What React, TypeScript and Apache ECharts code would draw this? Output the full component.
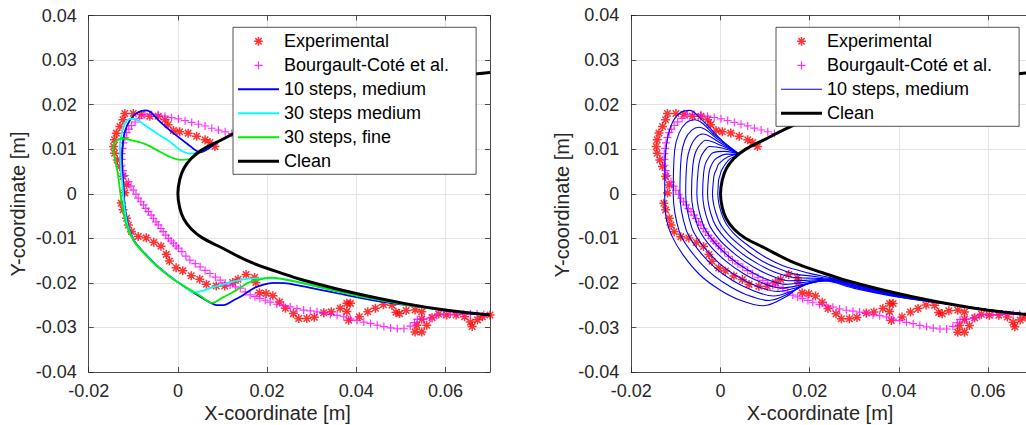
import React, { useEffect, useRef } from "react";
import * as echarts from "echarts";

// ---------- axis ranges ----------
const X_MIN = -0.02, X_MAX = 0.07, X_STEP = 0.02;
const Y_MIN = -0.04, Y_MAX = 0.04, Y_STEP = 0.01;

// ---------- data: Experimental (red *) ----------
const EXPERIMENTAL: number[][] = [
  [0.0083,0.0106],[0.0072,0.0115],[0.0061,0.0121],[0.0042,0.0129],[0.0023,0.0136],[0.0004,0.0139],[-0.001,0.0142],
  [-0.0022,0.0155],[-0.0029,0.0166],[-0.0044,0.0174],[-0.0063,0.0174],[-0.0082,0.0178],[-0.01,0.018],[-0.0119,0.018],
  [-0.0123,0.0166],[-0.013,0.0151],[-0.0138,0.0136],[-0.0142,0.0121],[-0.0144,0.0106],[-0.0142,0.0091],[-0.0136,0.0076],
  [-0.013,0.0061],[-0.0123,0.0039],[-0.0115,0.002],[-0.0119,0.0002],[-0.0127,-0.0021],[-0.0123,-0.0036],[-0.0115,-0.0055],
  [-0.0111,-0.007],[-0.0104,-0.0085],[-0.0089,-0.0096],[-0.0071,-0.0099],[-0.0054,-0.0109],[-0.0038,-0.0118],[-0.0026,-0.0136],
  [-0.0019,-0.0151],[-0.0004,-0.0166],[0.0011,-0.0173],[0.003,-0.0184],[0.0049,-0.0192],[0.0064,-0.0203],[0.0086,-0.0207],
  [0.0105,-0.0207],[0.0123,-0.0199],[0.0135,-0.0192],[0.0153,-0.0181],[0.0172,-0.0188],[0.0175,-0.0199],[0.0183,-0.0222],
  [0.0198,-0.0224],[0.0213,-0.0229],[0.0228,-0.0243],[0.0241,-0.0257],[0.0259,-0.0269],[0.0271,-0.028],[0.0289,-0.028],
  [0.0306,-0.0277],[0.0327,-0.0267],[0.0344,-0.0265],[0.0364,-0.0257],[0.0379,-0.0246],[0.0387,-0.0246],[0.0379,-0.0264],
  [0.0383,-0.0284],[0.0407,-0.0276],[0.0426,-0.0265],[0.0443,-0.0257],[0.0461,-0.0249],[0.048,-0.025],[0.0489,-0.0266],
  [0.0497,-0.0269],[0.0512,-0.0262],[0.0532,-0.0261],[0.0547,-0.0265],[0.0547,-0.0281],[0.0536,-0.0295],[0.0532,-0.031],
  [0.0547,-0.031],[0.0558,-0.0295],[0.057,-0.0278],[0.0585,-0.027],[0.0603,-0.0272],[0.0624,-0.0272],[0.0643,-0.0276],
  [0.0656,-0.0288],[0.066,-0.0298],[0.0672,-0.0283],[0.0683,-0.0276],[0.07,-0.0272],
];

// ---------- data: Bourgault-Coté et al. (magenta +) ----------
const BOURGAULT: number[][] = [
  [0.0121,0.0135],[0.0106,0.0139],[0.0091,0.0143],[0.0076,0.0147],[0.0061,0.0152],[0.0046,0.0156],[0.0031,0.016],
  [0.0016,0.0164],[0.0001,0.0168],[-0.0014,0.0171],[-0.0029,0.0174],[-0.0044,0.0177],[-0.0059,0.0178],[-0.0074,0.0177],
  [-0.0086,0.0169],[-0.0096,0.0161],[-0.0104,0.0153],[-0.011,0.0145],[-0.0115,0.0137],[-0.0119,0.0126],[-0.0122,0.0114],
  [-0.0124,0.0102],[-0.0126,0.009],[-0.0126,0.0077],[-0.0126,0.0064],[-0.0123,0.0052],[-0.0119,0.0041],[-0.0111,0.0027],
  [-0.0105,0.0017],[-0.01,0.0008],[-0.0094,-0.0001],[-0.0089,-0.001],[-0.0083,-0.0018],[-0.0077,-0.0025],[-0.0072,-0.0033],
  [-0.0066,-0.004],[-0.006,-0.0048],[-0.0055,-0.0055],[-0.0049,-0.0063],[-0.0044,-0.007],[-0.0038,-0.0078],[-0.0033,-0.0085],
  [-0.0027,-0.0093],[-0.0021,-0.01],[-0.0015,-0.0106],[-0.001,-0.0111],[-0.0004,-0.0117],[0.0001,-0.0122],[0.0009,-0.013],
  [0.0018,-0.014],[0.0027,-0.0149],[0.0039,-0.0157],[0.005,-0.0164],[0.0061,-0.0172],[0.0072,-0.0179],[0.0084,-0.0187],
  [0.0095,-0.0194],[0.0106,-0.02],[0.0117,-0.0205],[0.0129,-0.0209],[0.014,-0.0212],[0.0151,-0.022],[0.0162,-0.0227],
  [0.0173,-0.0231],[0.0184,-0.0235],[0.0196,-0.0239],[0.0207,-0.0243],[0.0222,-0.0248],[0.0237,-0.0251],[0.0252,-0.0254],
  [0.0267,-0.0258],[0.0282,-0.0261],[0.0297,-0.0263],[0.0312,-0.0265],[0.0327,-0.0268],[0.0342,-0.0271],[0.0357,-0.0273],
  [0.0372,-0.0276],[0.0387,-0.0281],[0.0402,-0.0284],[0.0417,-0.0288],[0.0432,-0.0291],[0.0447,-0.0295],[0.0462,-0.0298],
  [0.0477,-0.0301],[0.0492,-0.0303],[0.0507,-0.0303],[0.0521,-0.0297],[0.0531,-0.0289],[0.0537,-0.0282],[0.0551,-0.0282],
  [0.0566,-0.0279],[0.0581,-0.0273],[0.0596,-0.0271],[0.0611,-0.027],[0.0626,-0.027],[0.0641,-0.027],[0.0656,-0.027],
  [0.0671,-0.027],[0.0686,-0.0271],
];

// ---------- data: clean airfoil ----------
const CLEAN: number[][] = [
  [0.07,0.0272],[0.06,0.0261],[0.0507,0.0246],[0.04,0.0224],[0.0282,0.0194],[0.0229,0.0177],[0.0162,0.0153],
  [0.0094,0.0119],[0.0055,0.0099],[0.003,0.0079],[0.0013,0.0056],[0.0004,0.0031],[0,0],[0.0004,-0.0031],
  [0.0013,-0.0056],[0.003,-0.0079],[0.0055,-0.0099],[0.0094,-0.0119],[0.0162,-0.0153],[0.0229,-0.0177],
  [0.0282,-0.0194],[0.04,-0.0224],[0.0507,-0.0246],[0.06,-0.0261],[0.07,-0.0272],
];

// ---------- data: simulated ice shapes (left panel) ----------
const SIM_10_MEDIUM: number[][] = [
  [0.07,0.0272],[0.06,0.0261],[0.0507,0.0246],[0.04,0.0224],[0.0282,0.0194],[0.0229,0.0177],[0.0162,0.0153],
  [0.0094,0.0119],[0.005,0.0093],[0.002,0.0113],[-0.001,0.0136],[-0.0036,0.0158],[-0.0051,0.0173],[-0.0062,0.0184],
  [-0.0074,0.0187],[-0.0092,0.0181],[-0.0107,0.0166],[-0.0119,0.0139],[-0.0124,0.0106],[-0.0125,0.0061],[-0.0122,0.0016],
  [-0.0119,-0.0029],[-0.0111,-0.0074],[-0.0097,-0.0107],[-0.0074,-0.0134],[-0.0048,-0.016],[-0.001,-0.0191],[0.002,-0.0212],
  [0.005,-0.0231],[0.0072,-0.0244],[0.0087,-0.025],[0.0102,-0.025],[0.0125,-0.0239],[0.0147,-0.0227],[0.017,-0.0212],
  [0.0192,-0.0204],[0.0214,-0.02],[0.0244,-0.0201],[0.0282,-0.0208],[0.0357,-0.0223],[0.0432,-0.0238],[0.0506,-0.0249],
  [0.06,-0.0262],[0.07,-0.0272],
];
const SIM_30_MEDIUM: number[][] = [
  [0.07,0.0272],[0.06,0.0261],[0.0507,0.0246],[0.04,0.0224],[0.0282,0.0194],[0.0229,0.0177],[0.0162,0.0153],
  [0.0094,0.0119],[0.0055,0.0099],[0.004,0.0091],[0.0027,0.009],[0.0005,0.0098],[-0.0018,0.0117],[-0.0048,0.0136],
  [-0.007,0.0151],[-0.0092,0.0166],[-0.0107,0.0168],[-0.0119,0.0158],[-0.0126,0.0136],[-0.013,0.0106],[-0.0128,0.006],
  [-0.0124,0.0016],[-0.012,-0.003],[-0.0112,-0.0074],[-0.0098,-0.0107],[-0.0075,-0.0134],[-0.0049,-0.016],[-0.0012,-0.019],
  [0.0015,-0.0208],[0.0035,-0.0222],[0.0055,-0.0218],[0.0072,-0.0212],[0.011,-0.0201],[0.0147,-0.0192],[0.0184,-0.019],
  [0.0222,-0.019],[0.0282,-0.0201],[0.0357,-0.0219],[0.0432,-0.0234],[0.0506,-0.0247],[0.06,-0.0261],[0.07,-0.0272],
];
const SIM_30_FINE: number[][] = [
  [0.07,0.0272],[0.06,0.0261],[0.0507,0.0246],[0.04,0.0224],[0.0282,0.0194],[0.0229,0.0177],[0.0162,0.0153],
  [0.0094,0.0119],[0.0055,0.0099],[0.003,0.0079],[0.0005,0.0076],[-0.0018,0.0083],[-0.0047,0.0098],[-0.0077,0.0113],
  [-0.0107,0.0121],[-0.0126,0.0124],[-0.0139,0.0119],[-0.0145,0.0104],[-0.0142,0.0082],[-0.0135,0.0048],[-0.0129,0.0001],
  [-0.0123,-0.0036],[-0.0115,-0.0072],[-0.0099,-0.0106],[-0.0076,-0.0134],[-0.005,-0.016],[-0.0012,-0.0191],[0.002,-0.0211],
  [0.005,-0.0229],[0.0076,-0.0245],[0.0102,-0.0232],[0.0132,-0.0216],[0.0155,-0.0201],[0.0177,-0.0194],[0.0207,-0.0188],
  [0.0237,-0.0192],[0.0282,-0.0201],[0.0357,-0.0219],[0.0432,-0.0235],[0.0506,-0.0248],[0.06,-0.0261],[0.07,-0.0272],
];

// ---------- data: 10 intermediate ice steps (right panel) ----------
const STEP_1: number[][] = [
  [0.0043,0.0088],[0.002,0.0077],[0.0003,0.0054],[-0.0001,0.0042],[-0.0004,0.0032],[-0.0005,0.002],[-0.0006,0],
  [0.0006,-0.0054],[0.0029,-0.0088],[0.0069,-0.0121],[0.0104,-0.0144],[0.014,-0.0161],[0.0176,-0.0172],[0.0207,-0.018],
  [0.0237,-0.0186],[0.0268,-0.0192],[0.03,-0.0201],[0.04,-0.0224],[0.05,-0.0245],[0.06,-0.026],[0.07,-0.0271],
];
const STEP_2: number[][] = [
  [0.0043,0.0088],[0.0017,0.0083],[-0.0004,0.0067],[-0.0009,0.0055],[-0.0014,0.0043],[-0.0016,0.0028],[-0.0018,0],
  [-0.0005,-0.0058],[0.0018,-0.0092],[0.0058,-0.0127],[0.0094,-0.0151],[0.0131,-0.0168],[0.0168,-0.018],[0.0201,-0.0184],
  [0.0231,-0.0188],[0.0264,-0.0192],[0.03,-0.0202],[0.04,-0.0225],[0.05,-0.0245],[0.06,-0.026],[0.07,-0.0271],
];
const STEP_3: number[][] = [
  [0.0043,0.0088],[0.0013,0.0089],[-0.001,0.0079],[-0.0018,0.0069],[-0.0024,0.0055],[-0.0027,0.0037],[-0.0029,0],
  [-0.0016,-0.0061],[0.0008,-0.0097],[0.0047,-0.0133],[0.0084,-0.0157],[0.0122,-0.0176],[0.0161,-0.0187],[0.0196,-0.0189],
  [0.0226,-0.019],[0.0261,-0.0193],[0.03,-0.0203],[0.04,-0.0226],[0.05,-0.0245],[0.06,-0.026],[0.07,-0.0271],
];
const STEP_4: number[][] = [
  [0.0043,0.0088],[0.001,0.0095],[-0.0017,0.0092],[-0.0026,0.0082],[-0.0034,0.0067],[-0.0038,0.0045],[-0.004,0],
  [-0.0027,-0.0065],[-0.0003,-0.0102],[0.0036,-0.0138],[0.0074,-0.0164],[0.0112,-0.0183],[0.0153,-0.0195],[0.019,-0.0194],
  [0.022,-0.0192],[0.0257,-0.0193],[0.03,-0.0204],[0.04,-0.0227],[0.05,-0.0245],[0.06,-0.026],[0.07,-0.0271],
];
const STEP_5: number[][] = [
  [0.0043,0.0088],[0.0006,0.0102],[-0.0025,0.0106],[-0.0036,0.0096],[-0.0045,0.008],[-0.005,0.0055],[-0.0053,0],
  [-0.0039,-0.0069],[-0.0015,-0.0107],[0.0024,-0.0145],[0.0063,-0.0172],[0.0102,-0.0191],[0.0145,-0.0203],[0.0184,-0.0199],
  [0.0214,-0.0195],[0.0253,-0.0193],[0.03,-0.0205],[0.04,-0.0227],[0.05,-0.0245],[0.06,-0.026],[0.07,-0.0271],
];
const STEP_6: number[][] = [
  [0.0043,0.0088],[0.0002,0.0108],[-0.0033,0.012],[-0.0045,0.0111],[-0.0056,0.0093],[-0.0062,0.0064],[-0.0065,0],
  [-0.0051,-0.0073],[-0.0027,-0.0112],[0.0012,-0.0151],[0.0052,-0.0179],[0.0092,-0.0199],[0.0136,-0.0211],[0.0178,-0.0205],
  [0.0208,-0.0197],[0.0249,-0.0194],[0.03,-0.0206],[0.04,-0.0228],[0.05,-0.0245],[0.06,-0.026],[0.07,-0.0271],
];
const STEP_7: number[][] = [
  [0.0043,0.0088],[-0.0002,0.0115],[-0.004,0.0134],[-0.0055,0.0126],[-0.0067,0.0106],[-0.0075,0.0074],[-0.0078,0],
  [-0.0064,-0.0077],[-0.0039,-0.0117],[0.0,-0.0158],[0.0041,-0.0187],[0.0082,-0.0207],[0.0128,-0.0219],[0.0172,-0.021],
  [0.0202,-0.0199],[0.0245,-0.0194],[0.03,-0.0207],[0.04,-0.0229],[0.05,-0.0245],[0.06,-0.026],[0.07,-0.0271],
];
const STEP_8: number[][] = [
  [0.0043,0.0088],[-0.0006,0.0122],[-0.0048,0.0149],[-0.0065,0.0142],[-0.008,0.012],[-0.0088,0.0084],[-0.0091,0],
  [-0.0077,-0.0081],[-0.0052,-0.0123],[-0.0013,-0.0165],[0.0028,-0.0195],[0.0071,-0.0216],[0.0119,-0.0229],[0.0165,-0.0216],
  [0.0195,-0.0202],[0.0241,-0.0194],[0.03,-0.0209],[0.04,-0.023],[0.05,-0.0245],[0.06,-0.026],[0.07,-0.0271],
];
const STEP_9: number[][] = [
  [0.0043,0.0088],[-0.0011,0.013],[-0.0058,0.0166],[-0.0077,0.0159],[-0.0093,0.0136],[-0.0103,0.0096],[-0.0106,0],
  [-0.0092,-0.0086],[-0.0066,-0.0129],[-0.0028,-0.0172],[0.0015,-0.0204],[0.0058,-0.0226],[0.0109,-0.0239],[0.0157,-0.0222],
  [0.0187,-0.0205],[0.0236,-0.0195],[0.03,-0.021],[0.04,-0.0231],[0.05,-0.0246],[0.06,-0.0261],[0.07,-0.0272],
];
const STEP_10: number[][] = [
  [0.0043,0.0088],[0.0013,0.011],[-0.0017,0.014],[-0.0046,0.017],[-0.0069,0.0187],[-0.0091,0.0181],[-0.011,0.0155],
  [-0.0121,0.011],[-0.0125,0.0043],[-0.0125,-0.0002],[-0.0123,-0.0047],[-0.011,-0.0092],[-0.0084,-0.0137],[-0.0046,-0.0182],
  [-0.0002,-0.0215],[0.0043,-0.0238],[0.0096,-0.0251],[0.0148,-0.023],[0.0178,-0.0208],[0.023,-0.0195],[0.03,-0.0212],
  [0.04,-0.0232],[0.05,-0.0246],[0.06,-0.0261],[0.07,-0.0272],
];
const STEPS: number[][][] = [STEP_1, STEP_2, STEP_3, STEP_4, STEP_5, STEP_6, STEP_7, STEP_8, STEP_9, STEP_10];

// ---------- names ----------
const N_EXP = "Experimental";
const N_BC = "Bourgault-Coté et al.";
const N_10M = "10 steps, medium";
const N_30M = "30 steps medium";
const N_30F = "30 steps, fine";
const N_CLEAN = "Clean";

// ---------- styling ----------
const FONT = "'Liberation Sans', Arial, Helvetica, sans-serif";
const AX = "#262626";
const GRIDC = "#e3e3e3";
const ASTERISK = "path://M0,-5L0,5M-5,0L5,0M-3.6,-3.6L3.6,3.6M-3.6,3.6L3.6,-3.6";
const PLUS = "path://M0,-5L0,5M-5,0L5,0";
const ASTERISK_LEG = "path://M-8,-8M8,8M0,-5L0,5M-5,0L5,0M-3.6,-3.6L3.6,3.6M-3.6,3.6L3.6,-3.6";
const PLUS_LEG = "path://M-8.5,-8.5M8.5,8.5M0,-5L0,5M-5,0L5,0";
// legend line icons: thin filled bars inside a 41x14 box
const bar = (w: number) => `path://M0,0M41,14M0,${7 - w / 2}L41,${7 - w / 2}L41,${7 + w / 2}L0,${7 + w / 2}Z`;

const fmt = (v: number) => {
  const r = Math.round(v * 100) / 100;
  return r === 0 ? "0" : String(r);
};

const GRIDS = [
  { left: 88.7, top: 15.5, width: 401.3, height: 356.5 },
  { left: 631.3, top: 15.3, width: 401.4, height: 357 },
];

function App() {
  const ref = useRef<HTMLDivElement>(null);
  useEffect(() => {
    if (!ref.current) return;
    const chart = echarts.init(ref.current, undefined, { renderer: "svg" });

    const xAxes: any[] = [];
    const yAxes: any[] = [];
    GRIDS.forEach((_, gi) => {
      const tick = { show: true, inside: true, length: 5, lineStyle: { color: AX, width: 0.8 } };
      const line = { show: true, onZero: false, lineStyle: { color: AX, width: 0.8 } };
      xAxes.push({
        type: "value", gridIndex: gi, position: "bottom", min: X_MIN, max: X_MAX, interval: X_STEP,
        axisLine: line, axisTick: tick,
        axisLabel: { show: true, formatter: fmt, color: AX, fontSize: 18, fontFamily: FONT, margin: 10, showMaxLabel: false, showMinLabel: true },
        splitLine: { show: true, lineStyle: { color: GRIDC, width: 1 } },
      });
      xAxes.push({
        type: "value", gridIndex: gi, position: "top", min: X_MIN, max: X_MAX, interval: X_STEP,
        axisLine: line, axisTick: tick, axisLabel: { show: false }, splitLine: { show: false },
      });
      yAxes.push({
        type: "value", gridIndex: gi, position: "left", min: Y_MIN, max: Y_MAX, interval: Y_STEP,
        axisLine: line, axisTick: tick,
        axisLabel: { show: true, formatter: fmt, color: AX, fontSize: 18, fontFamily: FONT, margin: 12 },
        splitLine: { show: true, lineStyle: { color: GRIDC, width: 1 } },
      });
      yAxes.push({
        type: "value", gridIndex: gi, position: "right", min: Y_MIN, max: Y_MAX, interval: Y_STEP,
        axisLine: line, axisTick: tick, axisLabel: { show: false }, splitLine: { show: false },
      });
    });

    const ax = (gi: number) => ({ xAxisIndex: gi * 2, yAxisIndex: gi * 2 });
    const scatterExp = (gi: number) => ({
      type: "scatter", name: N_EXP, ...ax(gi), data: EXPERIMENTAL, symbol: ASTERISK, symbolSize: 9,
      itemStyle: { color: "rgba(0,0,0,0)", borderColor: "#ff0000", borderWidth: 1.5 }, silent: true,
    });
    const scatterBC = (gi: number) => ({
      type: "scatter", name: N_BC, ...ax(gi), data: BOURGAULT, symbol: PLUS, symbolSize: 8,
      itemStyle: { color: "rgba(0,0,0,0)", borderColor: "#ff00ff", borderWidth: 1.2 }, silent: true,
    });
    const lineS = (gi: number, name: string, data: number[][], color: string, width: number, smooth = 0.3) => ({
      type: "line", name, ...ax(gi), data, symbol: "none", smooth, silent: true,
      lineStyle: { color, width }, itemStyle: { color },
    });

    const series: any[] = [
      scatterExp(0),
      scatterBC(0),
      lineS(0, N_10M, SIM_10_MEDIUM, "#0000ff", 1.8),
      lineS(0, N_30M, SIM_30_MEDIUM, "#00ffff", 1.8),
      lineS(0, N_30F, SIM_30_FINE, "#00ee00", 1.8),
      lineS(0, N_CLEAN, CLEAN, "#000000", 3, 0.4),
      scatterExp(1),
      scatterBC(1),
      ...STEPS.map((s) => lineS(1, N_10M, s, "#0000ff", 1.1, 0.35)),
      lineS(1, N_CLEAN, CLEAN, "#000000", 3, 0.4),
    ];

    const legendCommon = {
      orient: "vertical",
      backgroundColor: "#ffffff",
      borderColor: AX,
      borderWidth: 0.8,
      borderRadius: 0,
      itemWidth: 41,
      itemHeight: 14,
      itemGap: 4,
      selectedMode: false,
      textStyle: { fontSize: 18, fontFamily: FONT, color: "#000", lineHeight: 20 },
    };
    const legExp = { name: N_EXP, icon: ASTERISK_LEG, itemStyle: { color: "rgba(0,0,0,0)", borderColor: "#ff0000", borderWidth: 1.5 } };
    const legBC = { name: N_BC, icon: PLUS_LEG, itemStyle: { color: "rgba(0,0,0,0)", borderColor: "#ff00ff", borderWidth: 1.2 } };
    const legLine = (name: string, color: string, w: number) => ({
      name, icon: bar(w), itemStyle: { color, borderWidth: 0 },
    });

    chart.setOption({
      animation: false,
      backgroundColor: "#ffffff",
      grid: GRIDS.map((g) => ({ ...g, containLabel: false, outerBoundsMode: "none" })),
      xAxis: xAxes,
      yAxis: yAxes,
      legend: [
        {
          ...legendCommon, left: 233, top: 27.3, padding: [4, 27, 3, 5],
          data: [legExp, legBC,
            legLine(N_10M, "#0000ff", 2),
            legLine(N_30M, "#00ffff", 2),
            legLine(N_30F, "#00ee00", 2),
            legLine(N_CLEAN, "#000000", 3)],
        },
        {
          ...legendCommon, left: 776, top: 27.3, padding: [4, 27, 3, 5],
          data: [legExp, legBC,
            legLine(N_10M, "#0000ff", 1.1),
            legLine(N_CLEAN, "#000000", 3)],
        },
      ],
      graphic: [
        { type: "text", x: 277.5, y: 413, style: { text: "X-coordinate [m]", fontSize: 20, fontFamily: FONT, fill: AX, align: "center", verticalAlign: "middle" } },
        { type: "text", x: 17.5, y: 204, rotation: Math.PI / 2, style: { text: "Y-coordinate [m]", fontSize: 20, fontFamily: FONT, fill: AX, align: "center", verticalAlign: "middle" } },
        { type: "text", x: 820, y: 413, style: { text: "X-coordinate [m]", fontSize: 20, fontFamily: FONT, fill: AX, align: "center", verticalAlign: "middle" } },
        { type: "text", x: 561.7, y: 205, rotation: Math.PI / 2, style: { text: "Y-coordinate [m]", fontSize: 20, fontFamily: FONT, fill: AX, align: "center", verticalAlign: "middle" } },
      ],
      series,
    });

    return () => chart.dispose();
  }, []);

  return (
    <div
      ref={ref}
      style={{ position: "fixed", left: 0, top: 0, width: 1026, height: 425, background: "#fff" }}
    />
  );
}

export default App;
